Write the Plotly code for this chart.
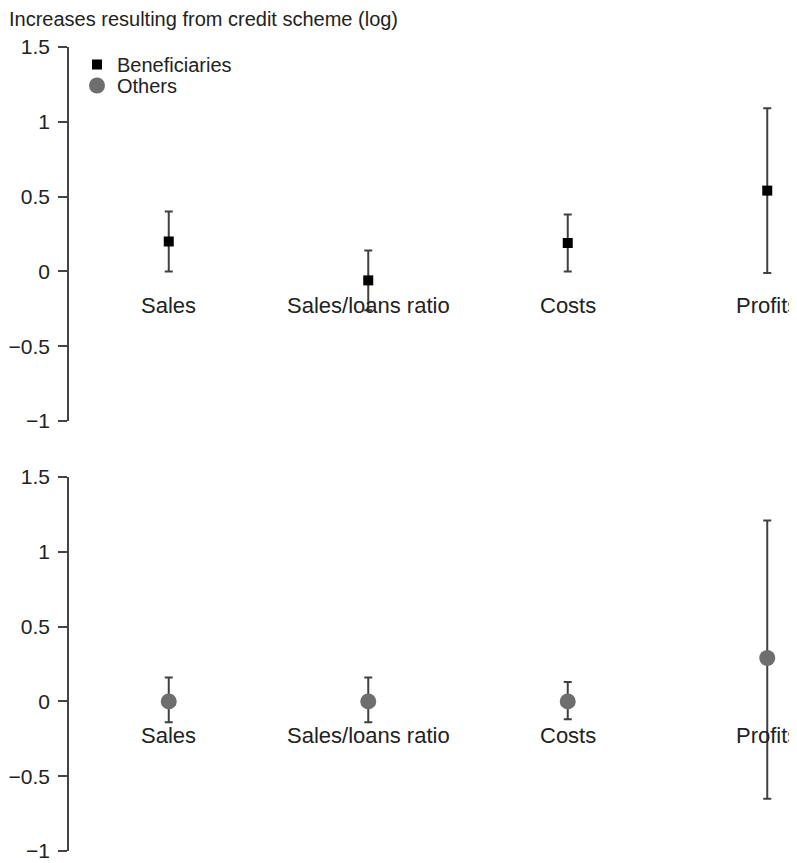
import plotly.graph_objects as go
from plotly.subplots import make_subplots

categories = ["Sales", "Sales/loans ratio", "Costs", "Profits"]

benef_est = [0.20, -0.06, 0.19, 0.54]
benef_hi = [0.40, 0.14, 0.38, 1.09]
benef_lo = [0.00, -0.26, 0.00, -0.01]

others_est = [0.00, 0.00, 0.00, 0.29]
others_hi = [0.16, 0.16, 0.13, 1.21]
others_lo = [-0.14, -0.14, -0.12, -0.65]

y_ticks = [-1, -0.5, 0, 0.5, 1, 1.5]
y_tick_text = ["\u22121", "\u22120.5", "0", "0.5", "1", "1.5"]

W, H = 797, 863
ML, MT, MB, MR = 61, 39, 20, 0
PW = W - ML - MR
PH = H - MT - MB
FONT = "Liberation Sans, Arial, Helvetica, sans-serif"

fig = make_subplots(rows=2, cols=1)

def add_series(est, hi, lo, name, row, symbol, size, color, legend):
    plus = [h - e for h, e in zip(hi, est)]
    minus = [e - l for e, l in zip(est, lo)]
    fig.add_trace(go.Scatter(
        x=categories, y=est, mode="markers", name=name, legend=legend,
        marker=dict(symbol=symbol, size=size, color=color),
        error_y=dict(type="data", symmetric=False, array=plus, arrayminus=minus,
                     color="#404040", thickness=2, width=4),
        cliponaxis=False,
    ), row=row, col=1)

add_series(benef_est, benef_hi, benef_lo, "Beneficiaries", 1, "square", 10, "#000000", "legend")
add_series(others_est, others_hi, others_lo, "Others", 2, "circle", 16, "#6e6e6e", "legend2")

# pixel-based domains (figure pixel coordinates)
bottom_px = H - MB
top_dom = [(bottom_px - 413) / PH, (bottom_px - 39) / PH]
bot_dom = [(bottom_px - 843) / PH, (bottom_px - 469) / PH]

xrange = [-0.5, -0.5 + PW / 199.5]
for r, dom in ((1, top_dom), (2, bot_dom)):
    fig.update_yaxes(row=r, col=1, domain=dom, range=[-1, 1.5], tickvals=y_ticks,
                     ticktext=y_tick_text, ticks="outside", ticklen=9, tickwidth=1.5,
                     tickcolor="#444", showline=True, linecolor="#444", linewidth=1.5,
                     showgrid=False, zeroline=False, automargin=False,
                     ticklabelstandoff=4,
                     tickfont=dict(family=FONT, size=21, color="#222"))
    fig.update_xaxes(row=r, col=1, range=xrange, visible=False, showgrid=False,
                     automargin=False)

annotations = []
for r in (1, 2):
    xref = "x" if r == 1 else "x2"
    yref = "y" if r == 1 else "y2"
    for c in categories:
        annotations.append(dict(x=c, y=0, xref=xref, yref=yref, text=c, showarrow=False,
                                yshift=-34, font=dict(family=FONT, size=22, color="#222")))
annotations.append(dict(x=(-1 - ML) / PW, y=1 - (11 - MT) / PH, xref="paper", yref="paper",
                        xanchor="left", yanchor="middle", showarrow=False,
                        text="Increases resulting from credit scheme (log)",
                        font=dict(family=FONT, size=20, color="#222")))

legend_common = dict(xanchor="left", yanchor="top",
                     font=dict(family=FONT, size=20, color="#222"),
                     bgcolor="rgba(0,0,0,0)", itemsizing="trace", borderwidth=0)

fig.update_layout(
    width=W, height=H,
    margin=dict(l=ML, r=MR, t=MT, b=MB, autoexpand=False),
    plot_bgcolor="white", paper_bgcolor="white",
    annotations=annotations,
    showlegend=True,
    legend=dict(x=(69 - ML) / PW, y=1 - (37 - MT) / PH, **legend_common),
    legend2=dict(x=(69 - ML) / PW, y=1 - (58 - MT) / PH, **legend_common),
)

fig.write_html("out.html")
